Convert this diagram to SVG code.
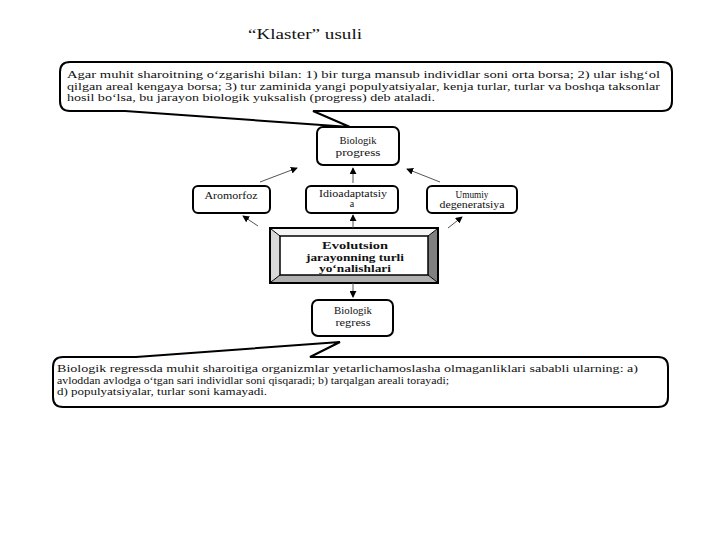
<svg xmlns="http://www.w3.org/2000/svg" width="720" height="540" viewBox="0 0 720 540">
<style>
.t{font-family:"Liberation Serif","Times New Roman",serif;fill:#111;}
.box{fill:#fff;stroke:#000;stroke-width:2;}
.callout{fill:#fff;stroke:#000;stroke-width:2;stroke-linejoin:miter;}
.arr{stroke:#555;stroke-width:1;fill:none;marker-end:url(#ah);}
.n{font-size:10px;text-anchor:middle;}
.p{font-size:11px;}
</style>
<defs>
<marker id="ah" viewBox="0 0 8 8" refX="7" refY="4" markerWidth="7" markerHeight="7" markerUnits="userSpaceOnUse" orient="auto">
<path d="M0,0 L8,4 L0,8 z" fill="#000"/>
</marker>
</defs>
<rect width="720" height="540" fill="#fff"/>

<text class="t" x="305" y="39" font-size="15" text-anchor="middle" textLength="114" lengthAdjust="spacingAndGlyphs">“Klaster” usuli</text>

<g id="callout-top">
<path class="callout" d="M70,62 H662 Q672,62 672,72 V101 Q672,111 662,111 H313 L350,127 L125,111 H70 Q60,111 60,101 V72 Q60,62 70,62 Z"/>
<text class="t p" x="67" y="78" textLength="593" lengthAdjust="spacingAndGlyphs">Agar muhit sharoitning o‘zgarishi bilan: 1) bir turga mansub individlar soni orta borsa; 2) ular ishg‘ol</text>
<text class="t p" x="67" y="90" textLength="593" lengthAdjust="spacingAndGlyphs">qilgan areal kengaya borsa; 3) tur zaminida yangi populyatsiyalar, kenja turlar, turlar va boshqa taksonlar</text>
<text class="t p" x="67" y="101" textLength="368" lengthAdjust="spacingAndGlyphs">hosil bo‘lsa, bu jarayon biologik yuksalish (progress) deb ataladi.</text>
</g>

<g id="progress">
<rect class="box" x="317" y="127" width="82" height="38" rx="6"/>
<text class="t n" x="358" y="144" font-size="11" textLength="37" lengthAdjust="spacingAndGlyphs">Biologik</text>
<text class="t n" x="358" y="156" font-size="11" textLength="45" lengthAdjust="spacingAndGlyphs">progress</text>
</g>

<g id="aromorfoz">
<rect class="box" x="193" y="186" width="77" height="27" rx="5"/>
<text class="t n" x="231" y="199" textLength="53" lengthAdjust="spacingAndGlyphs">Aromorfoz</text>
</g>

<g id="idioadaptatsiya">
<rect class="box" x="306" y="186" width="92" height="27" rx="5"/>
<text class="t n" x="353" y="197" textLength="68" lengthAdjust="spacingAndGlyphs">Idioadaptatsiy</text>
<text class="t n" x="352" y="207">a</text>
</g>

<g id="degeneratsiya">
<rect class="box" x="427" y="186" width="90" height="27" rx="5"/>
<text class="t n" x="472" y="198" textLength="33" lengthAdjust="spacingAndGlyphs">Umumiy</text>
<text class="t n" x="472" y="208" textLength="65" lengthAdjust="spacingAndGlyphs">degeneratsiya</text>
</g>

<g id="evolutsion">
<rect x="270" y="228" width="168" height="55" fill="#fff" stroke="#000" stroke-width="2"/>
<polygon points="271,229 280,236 280,275 271,282" fill="#d8d8d8"/>
<polygon points="437,229 428,236 428,275 437,282" fill="#808080"/>
<polygon points="271,282 280,275 428,275 437,282" fill="#b0b0b0"/>
<polygon points="271,229 280,236 428,236 437,229" fill="#f4f4f4"/>
<line x1="271" y1="229" x2="280" y2="236" stroke="#000" stroke-width="1"/>
<line x1="437" y1="229" x2="428" y2="236" stroke="#000" stroke-width="1"/>
<line x1="271" y1="282" x2="280" y2="275" stroke="#000" stroke-width="1"/>
<line x1="437" y1="282" x2="428" y2="275" stroke="#000" stroke-width="1"/>
<rect x="280" y="236" width="148" height="39" fill="#fff" stroke="#000" stroke-width="1.5"/>
<text class="t n" x="355" y="249" font-size="11.5" font-weight="bold" textLength="66" lengthAdjust="spacingAndGlyphs">Evolutsion</text>
<text class="t n" x="355" y="261" font-size="11.5" font-weight="bold" textLength="98" lengthAdjust="spacingAndGlyphs">jarayonning turli</text>
<text class="t n" x="355" y="272" font-size="11.5" font-weight="bold" textLength="72" lengthAdjust="spacingAndGlyphs">yo‘nalishlari</text>
</g>

<g id="regress">
<rect class="box" x="312" y="300" width="81" height="36" rx="6"/>
<text class="t n" x="353" y="314" font-size="11" textLength="38" lengthAdjust="spacingAndGlyphs">Biologik</text>
<text class="t n" x="353" y="326" font-size="11" textLength="35" lengthAdjust="spacingAndGlyphs">regress</text>
</g>

<g id="callout-bottom">
<path class="callout" d="M63,357 H136 L340,342 L310,357 H658 Q668,357 668,367 V397 Q668,407 658,407 H63 Q53,407 53,397 V367 Q53,357 63,357 Z"/>
<text class="t p" x="57" y="372" textLength="581" lengthAdjust="spacingAndGlyphs">Biologik regressda muhit sharoitiga organizmlar yetarlichamoslasha olmaganliklari sababli ularning: a)</text>
<text class="t p" x="57" y="384" textLength="392" lengthAdjust="spacingAndGlyphs">avloddan avlodga o‘tgan sari individlar soni qisqaradi; b) tarqalgan areali torayadi;</text>
<text class="t p" x="57" y="395" textLength="210" lengthAdjust="spacingAndGlyphs">d) populyatsiyalar, turlar soni kamayadi.</text>
</g>

<g id="connectors">
<line class="arr" x1="260" y1="182" x2="297" y2="168"/>
<line class="arr" x1="353" y1="183" x2="353" y2="168"/>
<line class="arr" x1="440" y1="182" x2="407" y2="169"/>
<line class="arr" x1="258" y1="226" x2="243" y2="216"/>
<line class="arr" x1="353" y1="228" x2="353" y2="215"/>
<line class="arr" x1="448" y1="228" x2="462" y2="217"/>
<line class="arr" x1="353" y1="283" x2="353" y2="297"/>
</g>
</svg>
